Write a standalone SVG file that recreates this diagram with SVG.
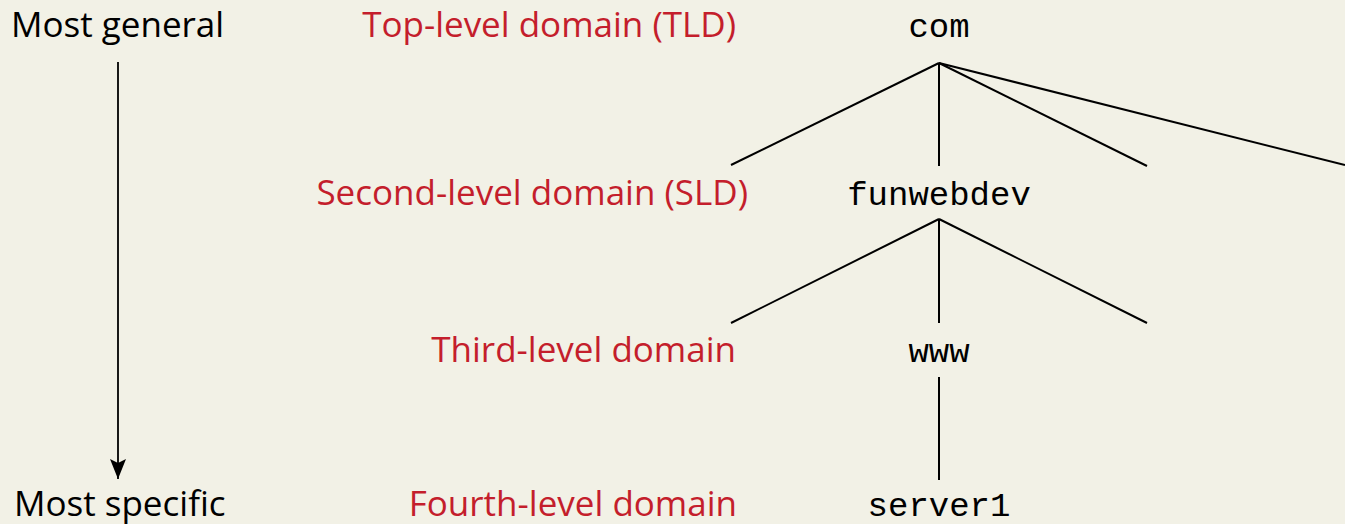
<svg xmlns="http://www.w3.org/2000/svg" width="1345" height="524" viewBox="0 0 1345 524">
<defs>
<style>
.side{font-family:"Open Sans","Noto Sans",sans-serif;font-size:35px;fill:#000}
.lvl{font-family:"Open Sans","Noto Sans",sans-serif;font-size:35px;fill:#c41e2c;text-anchor:end}
.dom{font-family:"Liberation Mono","DejaVu Sans Mono",monospace;font-size:34px;fill:#000;text-anchor:middle}
.ln{stroke:#000;stroke-width:2;fill:none}
</style>
<marker id="ah" viewBox="0 0 20 16" refX="20" refY="8" markerWidth="20" markerHeight="16" markerUnits="userSpaceOnUse" orient="auto">
<path d="M0,0 L20,8 L0,16 L4,8 z" fill="#000"/>
</marker>
</defs>
<rect width="1345" height="524" fill="#f2f1e6"/>
<g id="connectors">
<line class="ln" x1="118" y1="62" x2="118" y2="479" marker-end="url(#ah)" style="stroke-width:1.8"/>
<line class="ln" x1="939" y1="63" x2="731" y2="165"/>
<line class="ln" x1="939" y1="63" x2="939" y2="166"/>
<line class="ln" x1="939" y1="63" x2="1147" y2="166"/>
<line class="ln" x1="939" y1="63" x2="1345" y2="165"/>
<line class="ln" x1="939" y1="219" x2="731" y2="323"/>
<line class="ln" x1="939" y1="219" x2="939" y2="323"/>
<line class="ln" x1="939" y1="219" x2="1147" y2="323"/>
<line class="ln" x1="939" y1="377" x2="939" y2="480"/>
</g>
<g id="side-labels">
<text class="side" x="11" y="37">Most general</text>
<text class="side" x="14" y="516">Most specific</text>
</g>
<g id="level-labels">
<text class="lvl" x="736" y="37">Top-level domain (TLD)</text>
<text class="lvl" x="748" y="205">Second-level domain (SLD)</text>
<text class="lvl" x="736" y="362">Third-level domain</text>
<text class="lvl" x="737" y="516">Fourth-level domain</text>
</g>
<g id="node-com"><text class="dom" x="939" y="37">com</text></g>
<g id="node-funwebdev"><text class="dom" x="939" y="205">funwebdev</text></g>
<g id="node-www"><text class="dom" x="939" y="362">www</text></g>
<g id="node-server1"><text class="dom" x="939" y="516">server1</text></g>
</svg>
